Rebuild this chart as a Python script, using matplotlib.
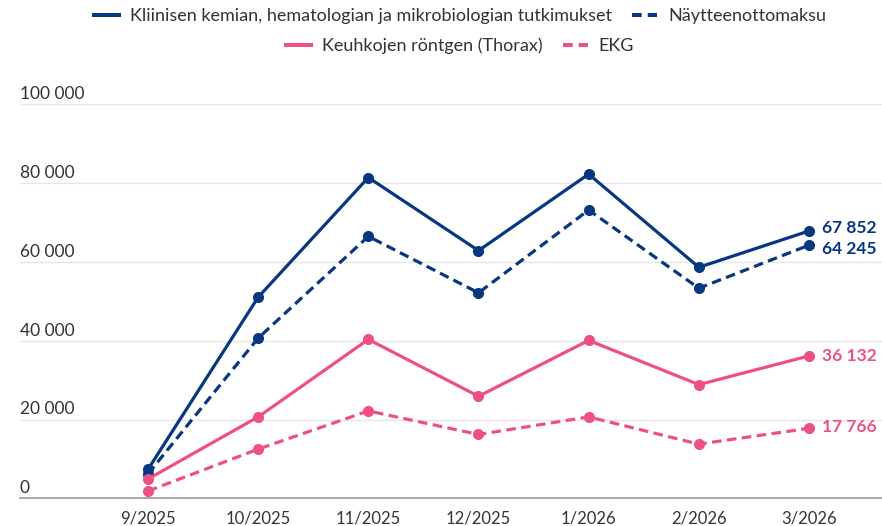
import matplotlib.pyplot as plt
from matplotlib.lines import Line2D

plt.rcParams['font.family'] = ['Lato', 'DejaVu Sans']

months = ['9/2025', '10/2025', '11/2025', '12/2025', '1/2026', '2/2026', '3/2026']
lab_tests = [7340, 51040, 81420, 62860, 82280, 58630, 67852]
sampling_fee = [6200, 40660, 66480, 52150, 73160, 53320, 64245]
thorax_xray = [4890, 20660, 40330, 25900, 40080, 28860, 36132]
ecg = [1850, 12480, 22180, 16200, 20660, 13750, 17766]

names = ['Kliinisen kemian, hematologian ja mikrobiologian tutkimukset',
         'Näytteenottomaksu', 'Keuhkojen röntgen (Thorax)', 'EKG']
yticks = [0, 20000, 40000, 60000, 80000, 100000]

navy = '#063780'
pink = '#ee4f88'
text_col = '#333333'


def fmt(v):
    return f'{v:,}'.replace(',', ' ')


fig = plt.figure(figsize=(8.82, 5.26), dpi=100)
ax = fig.add_axes([20 / 882, (526 - 498.3) / 526, 862 / 882, 394 / 526])

x = list(range(len(months)))
series = [
    (lab_tests, navy, '-'),
    (sampling_fee, navy, (0, (3, 1.7))),
    (thorax_xray, pink, '-'),
    (ecg, pink, (0, (3, 1.7))),
]
for vals, col, ls in series:
    ax.plot(x, vals, color=col, linestyle=ls, lw=2.3, marker='o', ms=8,
            markeredgewidth=0, clip_on=False, zorder=3)

# last-value labels
offsets = [3, -4, 0, 1]
for (vals, col, ls), dy in zip(series, offsets):
    ax.annotate(fmt(vals[-1]), xy=(x[-1], vals[-1]), xytext=(13, dy),
                textcoords='offset pixels', ha='left', va='center',
                color=col, fontsize=12.5, fontweight='bold')

ax.set_xlim(-(148 - 20) / 110.17, 6 + (882 - 809) / 110.17)
ax.set_ylim(0, 100000)

for s in ['top', 'right', 'left']:
    ax.spines[s].set_visible(False)
ax.spines['bottom'].set_color('#999999')
ax.spines['bottom'].set_linewidth(1.2)

ax.set_yticks(yticks)
ax.set_yticklabels([])
ax.tick_params(axis='y', length=0)
ax.grid(axis='y', color='#e6e6e6', lw=1)
ax.set_axisbelow(True)
for v in yticks:
    ax.annotate(fmt(v), xy=(0, v), xycoords=('axes fraction', 'data'),
                xytext=(0, 5), textcoords='offset pixels', ha='left', va='baseline',
                color=text_col, fontsize=12.5)

ax.set_xticks(x)
ax.set_xticklabels(months, fontsize=12, color=text_col)
ax.tick_params(axis='x', length=0, pad=9)

h = [Line2D([], [], color=navy, lw=2.9),
     Line2D([], [], color=navy, lw=2.9, linestyle=(0, (2.4, 1.5))),
     Line2D([], [], color=pink, lw=2.9),
     Line2D([], [], color=pink, lw=2.9, linestyle=(0, (2.4, 1.5)))]
leg_kw = dict(ncol=2, loc='center', frameon=False, fontsize=13,
              handlelength=1.4, handletextpad=0.6, columnspacing=1.1)
leg1 = fig.legend(h[:2], names[:2], bbox_to_anchor=(460 / 882, 1 - 16 / 526), **leg_kw)
leg2 = fig.legend(h[2:], names[2:], bbox_to_anchor=(460 / 882, 1 - 46 / 526), **leg_kw)
for lg in (leg1, leg2):
    for t in lg.get_texts():
        t.set_color(text_col)

fig.savefig('out.png', dpi=100)
